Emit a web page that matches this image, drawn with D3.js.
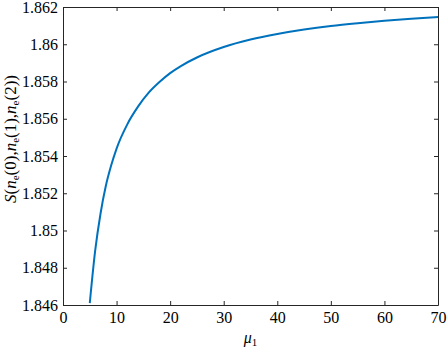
<!DOCTYPE html>
<html lang="en">
<head>
<meta charset="utf-8">
<title>S vs mu1</title>
<script src="https://d3js.org/d3.v7.min.js"></script>
<style>
    body { margin: 0; background: #fff; }
    text { font-family: "Liberation Serif", "Times New Roman", serif; }
</style>
</head>
<body>
<script>
// values
var mu = [5, 6, 7, 8, 9, 10, 12, 14, 16, 18, 20, 22, 25, 30, 35, 40, 45, 50, 55, 60, 65, 70];
var sVal = [1.8461, 1.8489, 1.8509, 1.8524, 1.8535, 1.8544, 1.8557, 1.85665, 1.85740, 1.85797,
            1.85845, 1.85883, 1.85929, 1.85985, 1.86025, 1.86055, 1.86079, 1.86098, 1.86113,
            1.86126, 1.86137, 1.86146];
var xTicks = [0, 10, 20, 30, 40, 50, 60, 70];
var yTicks = [1.846, 1.848, 1.85, 1.852, 1.854, 1.856, 1.858, 1.86, 1.862];

var w = 448, h = 348;
var mLeft = 63, mRight = 438, mTop = 7, mBottom = 305;

var svg = d3.select("body").append("svg")
    .attr("width", w)
    .attr("height", h);

var x = d3.scaleLinear().domain([0, 70]).range([mLeft, mRight]);
var y = d3.scaleLinear().domain([1.846, 1.862]).range([mBottom, mTop]);

var axisColor = "#262626";
var tk = 4;

// axes (ticks point inward like matlab)
var gx = svg.append("g").attr("transform", "translate(0," + mBottom + ")")
    .call(d3.axisBottom(x).tickValues(xTicks).tickSizeInner(-tk).tickSizeOuter(0).tickPadding(7)
        .tickFormat(d3.format("d")));
var gy = svg.append("g").attr("transform", "translate(" + mLeft + ",0)")
    .call(d3.axisLeft(y).tickValues(yTicks).tickSizeInner(-tk).tickSizeOuter(0).tickPadding(5)
        .tickFormat(function(d) { return String(+d.toFixed(3)); }));
var gt = svg.append("g").attr("transform", "translate(0," + mTop + ")")
    .call(d3.axisTop(x).tickValues(xTicks).tickSizeInner(-tk).tickSizeOuter(0).tickFormat(""));
var gr = svg.append("g").attr("transform", "translate(" + mRight + ",0)")
    .call(d3.axisRight(y).tickValues(yTicks).tickSizeInner(-tk).tickSizeOuter(0).tickFormat(""));

[gx, gy, gt, gr].forEach(function(g) {
    g.select(".domain").attr("stroke", axisColor).attr("stroke-width", 1);
    g.selectAll(".tick line").attr("stroke", axisColor);
    g.selectAll(".tick text").attr("fill", "#000").attr("font-size", "16px")
        .style("font-family", "'Liberation Serif', serif");
});

// curve
var pts = mu.map(function(m, i) { return [m, sVal[i]]; });
var line = d3.line()
    .x(function(d) { return x(d[0]); })
    .y(function(d) { return y(d[1]); })
    .curve(d3.curveMonotoneX);

svg.append("path")
    .datum(pts)
    .attr("d", line)
    .attr("fill", "none")
    .attr("stroke", "#0072BD")
    .attr("stroke-width", 2);

// x label
var xl = svg.append("text")
    .attr("x", (mLeft + mRight) / 2)
    .attr("y", 343)
    .attr("text-anchor", "middle")
    .attr("font-size", "16px");
xl.append("tspan").attr("font-style", "italic").text("\u03bc");
xl.append("tspan").attr("font-size", "11px").attr("dy", 3).text("1");

// y label
var yl = svg.append("text")
    .attr("transform", "translate(16,139) rotate(-90)")
    .attr("text-anchor", "middle")
    .attr("font-size", "17px");
function sub(t) {
    yl.append("tspan").attr("font-size", "11px").attr("dy", 3).text(t);
}
function norm(t, it) {
    var s = yl.append("tspan").text(t);
    if (it) s.attr("font-style", "italic");
    return s;
}
norm("S", true);
norm("(");
norm("n", true);
sub("e");
yl.append("tspan").attr("dy", -3).text("(0),");
norm("n", true);
sub("e");
yl.append("tspan").attr("dy", -3).text("(1),");
norm("n", true);
sub("e");
yl.append("tspan").attr("dy", -3).text("(2))");
</script>
</body>
</html>
